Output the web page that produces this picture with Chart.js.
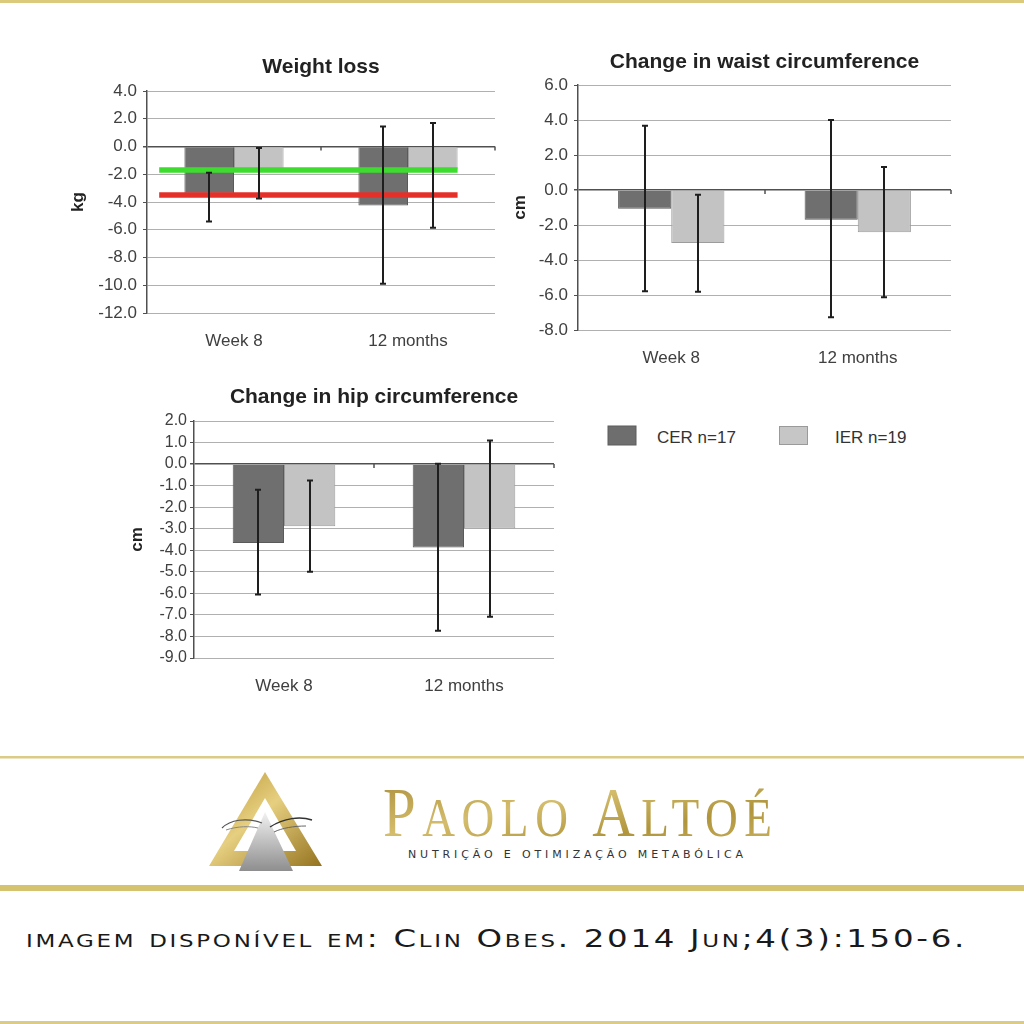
<!DOCTYPE html>
<html>
<head>
<meta charset="utf-8">
<script src="https://cdn.jsdelivr.net/npm/chart.js@4.4.1/dist/chart.umd.min.js"></script>
<style>
html, body { margin: 0; padding: 0; background: #fff; }
body { width: 1024px; height: 1024px; position: relative; overflow: hidden; }
#deco { position: absolute; left: 0; top: 0; }
.wrap { position: absolute; }
</style>
</head>
<body>

<svg id="deco" width="1024" height="1024" xmlns="http://www.w3.org/2000/svg">
  <defs>
    <linearGradient id="goldV" x1="0" y1="0" x2="1" y2="1">
      <stop offset="0" stop-color="#a88c3a"/>
      <stop offset="0.4" stop-color="#d4bd6c"/>
      <stop offset="0.7" stop-color="#b0953c"/>
      <stop offset="1" stop-color="#cdb462"/>
    </linearGradient>
    <linearGradient id="goldTri" x1="0" y1="0" x2="1" y2="1">
      <stop offset="0" stop-color="#b8932f"/>
      <stop offset="0.45" stop-color="#e6cf80"/>
      <stop offset="1" stop-color="#94731f"/>
    </linearGradient>
    <linearGradient id="silver" x1="0" y1="0" x2="0" y2="1">
      <stop offset="0" stop-color="#f2f2f2"/>
      <stop offset="1" stop-color="#8e8e8e"/>
    </linearGradient>
  </defs>

  <!-- gold frame lines -->
  <rect x="0" y="0" width="1024" height="3" fill="#dbc97c"/>
  <rect x="0" y="756" width="1024" height="2.5" fill="#dccb84"/>
  <rect x="0" y="885" width="1024" height="6" fill="#d6c36f"/>
  <rect x="0" y="1021" width="1024" height="3" fill="#dccb84"/>

  <!-- legend -->
  <rect x="608" y="426" width="28" height="19" fill="#6e6e6e" stroke="#5c5c5c" stroke-width="1"/>
  <text x="657" y="443" font-family="Liberation Sans, Arial, sans-serif" font-size="17" fill="#333">CER n=17</text>
  <rect x="779.5" y="426.5" width="28" height="18" fill="#c6c6c6" stroke="#9a9a9a" stroke-width="1"/>
  <text x="835" y="443" font-family="Liberation Sans, Arial, sans-serif" font-size="17" fill="#333">IER n=19</text>

  <!-- logo -->
  <polygon points="265,772 209,866 322,866" fill="url(#goldTri)"/>
  <polygon points="265,798 234,851 296,851" fill="#fff"/>
  <polygon points="265,812 239,871 293,871" fill="url(#silver)"/>
  <path d="M222,828 C230,820 246,817 262,823" stroke="#555" stroke-width="1.2" fill="none"/>
  <path d="M226,830 C238,826 250,826 258,828" stroke="#888" stroke-width="1" fill="none"/>
  <path d="M312,820 C300,816 284,818 270,827" stroke="#333" stroke-width="1.4" fill="none"/>
  <path d="M306,826 C294,826 282,828 274,832" stroke="#666" stroke-width="1" fill="none"/>

  <g transform="translate(383,836) scale(0.84,1)">
    <text x="0" y="0" textLength="463" lengthAdjust="spacing" font-family="Liberation Serif, DejaVu Serif, serif" fill="url(#goldV)"><tspan font-size="70">P</tspan><tspan font-size="54">AOLO </tspan><tspan font-size="70">A</tspan><tspan font-size="54">LTOÉ</tspan></text>
  </g>
  <text x="408" y="858" textLength="335" lengthAdjust="spacing" font-family="DejaVu Sans, sans-serif" font-size="11" fill="#333">NUTRIÇÃO E OTIMIZAÇÃO METABÓLICA</text>

  <text x="26" y="947" textLength="941" lengthAdjust="spacingAndGlyphs" font-family="DejaVu Sans, sans-serif" font-size="24" letter-spacing="2" style="font-variant: small-caps" fill="#1a1a1a">imagem disponível em: Clin Obes. 2014 Jun;4(3):150-6.</text>
</svg>

<div class="wrap" style="left:60px; top:44px; width:440px; height:310px;"><canvas id="weight"></canvas></div>
<div class="wrap" style="left:500px; top:36px; width:456px; height:336px;"><canvas id="waist"></canvas></div>
<div class="wrap" style="left:120px; top:372px; width:439px; height:326px;"><canvas id="hip"></canvas></div>

<script>
var categories = ["Week 8", "12 months"];
var seriesNames = ["CER n=17", "IER n=19"];

// weight loss, kg
var weightCER = [-3.4, -4.25];
var weightIER = [-1.65, -1.65];
var weightCERLow = [-5.4, -9.9];
var weightCERHigh = [-1.9, 1.45];
var weightIERLow = [-3.75, -5.85];
var weightIERHigh = [-0.1, 1.7];
var weightGreen = -1.7;   // green reference line
var weightRed = -3.5;     // red reference line
var weightRefSpan = [-0.43, 1.285]; // in category units
var weightMin = -12, weightMax = 4, weightStep = 2;

// waist circumference, cm
var waistCER = [-1.07, -1.70];
var waistIER = [-3.03, -2.42];
var waistCERLow = [-5.79, -7.27];
var waistCERHigh = [3.67, 4.0];
var waistIERLow = [-5.82, -6.13];
var waistIERHigh = [-0.27, 1.31];
var waistMin = -8, waistMax = 6, waistStep = 2;

// hip circumference, cm
var hipCER = [-3.66, -3.87];
var hipIER = [-2.88, -2.99];
var hipCERLow = [-6.05, -7.73];
var hipCERHigh = [-1.19, 0.02];
var hipIERLow = [-5.0, -7.09];
var hipIERHigh = [-0.76, 1.10];
var hipMin = -9, hipMax = 2, hipStep = 1;

Chart.defaults.font.family = '"Liberation Sans", Arial, sans-serif';
Chart.defaults.animation = false;

// horizontal reference lines, drawn over the bars
function refLines(lines) {
    return {
        id: 'refLines',
        afterDatasetsDraw: function(chart) {
            var ctx = chart.ctx, xs = chart.scales.x, y = chart.scales.y;
            ctx.save();
            ctx.lineWidth = 5.5;
            lines.forEach(function(l) {
                var py = y.getPixelForValue(l.value);
                ctx.strokeStyle = l.color;
                ctx.beginPath();
                ctx.moveTo(xs.getPixelForValue(weightRefSpan[0]), py);
                ctx.lineTo(xs.getPixelForValue(weightRefSpan[1]), py);
                ctx.stroke();
            });
            ctx.restore();
        }
    };
}

// error bars + the little marks under the zero line
var errorBars = {
    id: 'errorBars',
    afterDatasetsDraw: function(chart) {
        var ctx = chart.ctx;
        var y = chart.scales.y;
        var xs = chart.scales.x;
        ctx.save();
        ctx.strokeStyle = '#1e1e1e';
        ctx.lineWidth = 2;
        chart.data.datasets.forEach(function(ds, i) {
            if (!ds.errLow) return;
            chart.getDatasetMeta(i).data.forEach(function(bar, j) {
                var x = Math.round(bar.x);
                var top = y.getPixelForValue(ds.errHigh[j]);
                var bot = y.getPixelForValue(ds.errLow[j]);
                ctx.beginPath();
                ctx.moveTo(x, top); ctx.lineTo(x, bot);
                ctx.moveTo(x - 3, top); ctx.lineTo(x + 3, top);
                ctx.moveTo(x - 3, bot); ctx.lineTo(x + 3, bot);
                ctx.stroke();
            });
        });
        var y0 = y.getPixelForValue(0);
        ctx.strokeStyle = '#505050';
        ctx.lineWidth = 1.5;
        [0.5, 1.5].forEach(function(v) {
            var px = Math.round(xs.getPixelForValue(v));
            ctx.beginPath();
            ctx.moveTo(px, y0); ctx.lineTo(px, y0 + 4);
            ctx.stroke();
        });
        ctx.restore();
    }
};

function barChart(id, o) {
    var plugins = [];
    if (o.lines) plugins.push(refLines(o.lines));
    plugins.push(errorBars);
    return new Chart(document.getElementById(id), {
        type: 'bar',
        data: {
            labels: categories,
            datasets: [
                { label: seriesNames[0], data: o.cer, errLow: o.cerLow, errHigh: o.cerHigh,
                  backgroundColor: '#6f6f6f', borderColor: '#5a5a5a', borderWidth: 1 },
                { label: seriesNames[1], data: o.ier, errLow: o.ierLow, errHigh: o.ierHigh,
                  backgroundColor: '#c3c3c3', borderColor: '#9c9c9c', borderWidth: 1 }
            ]
        },
        options: {
            responsive: true,
            maintainAspectRatio: false,
            categoryPercentage: 0.57,
            barPercentage: 1.0,
            layout: { padding: { right: 5 } },
            plugins: {
                legend: { display: false },
                tooltip: { enabled: false },
                title: {
                    display: true, text: o.title, fullSize: false, color: '#222',
                    font: { size: 21, weight: 'bold' },
                    padding: { top: o.titleTop, bottom: o.titleBottom }
                }
            },
            scales: {
                x: {
                    grid: { display: false, drawTicks: false },
                    border: { display: false },
                    ticks: { color: '#404040', font: { size: 17 }, padding: 18 },
                    afterFit: function(s) { s.height = o.xHeight; }
                },
                y: {
                    min: o.min, max: o.max,
                    ticks: {
                        stepSize: o.step, autoSkip: false, color: '#404040',
                        font: { size: o.tickSize }, padding: o.tickPad,
                        callback: function(v) { return v.toFixed(1); }
                    },
                    grid: {
                        color: function(c) { return c.tick && c.tick.value === 0 ? '#505050' : '#b0b0b0'; },
                        lineWidth: function(c) { return c.tick && c.tick.value === 0 ? 1.5 : 1; },
                        tickLength: 4, tickColor: '#505050'
                    },
                    border: { color: '#505050', width: 1.5 },
                    title: { display: true, text: o.unit, color: '#222', font: { size: 17, weight: 'bold' },
                             padding: { top: o.unitPad, bottom: 0 } },
                    afterFit: function(s) { s.width = o.yWidth; }
                }
            }
        },
        plugins: plugins
    });
}

barChart('weight', {
    title: 'Weight loss', unit: 'kg',
    cer: weightCER, ier: weightIER,
    cerLow: weightCERLow, cerHigh: weightCERHigh, ierLow: weightIERLow, ierHigh: weightIERHigh,
    min: weightMin, max: weightMax, step: weightStep,
    lines: [{ value: weightGreen, color: '#3edc2e' }, { value: weightRed, color: '#e5302a' }],
    yWidth: 87, xHeight: 41, tickSize: 17, tickPad: 6, unitPad: 7.8, titleTop: 10.4, titleBottom: 11.4
});

barChart('waist', {
    title: 'Change in waist circumference', unit: 'cm',
    cer: waistCER, ier: waistIER,
    cerLow: waistCERLow, cerHigh: waistCERHigh, ierLow: waistIERLow, ierHigh: waistIERHigh,
    min: waistMin, max: waistMax, step: waistStep,
    yWidth: 78, xHeight: 42, tickSize: 17, tickPad: 6, unitPad: 9.8, titleTop: 13.4, titleBottom: 10.4
});

barChart('hip', {
    title: 'Change in hip circumference', unit: 'cm',
    cer: hipCER, ier: hipIER,
    cerLow: hipCERLow, cerHigh: hipCERHigh, ierLow: hipIERLow, ierHigh: hipIERHigh,
    min: hipMin, max: hipMax, step: hipStep,
    yWidth: 74, xHeight: 40, tickSize: 16, tickPad: 3, unitPad: 6.8, titleTop: 12.4, titleBottom: 11.4
});
</script>
</body>
</html>
